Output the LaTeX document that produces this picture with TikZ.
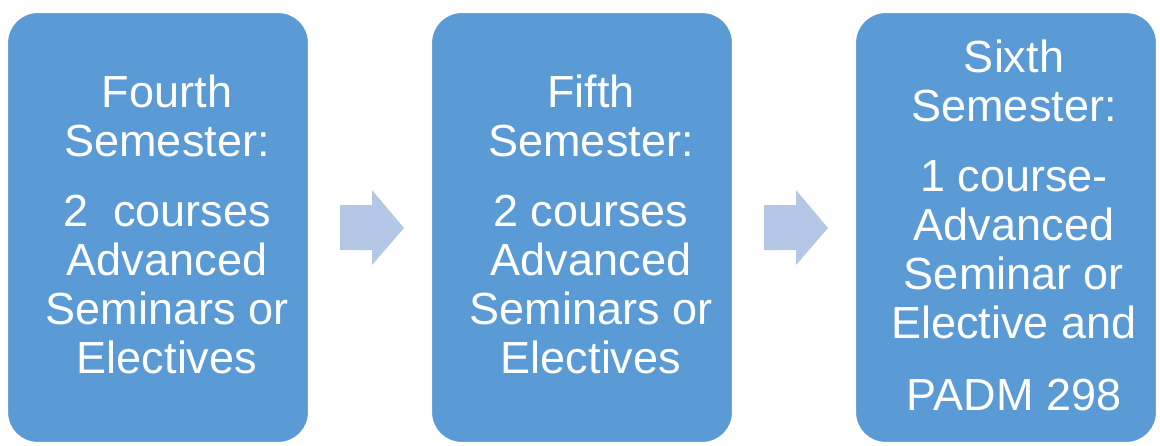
\documentclass[tikz,border=0pt]{standalone}
\usepackage{fontspec}
\setmainfont{Liberation Sans}
\definecolor{boxblue}{HTML}{5B9BD5}
\definecolor{arrowblue}{HTML}{B4C7E7}
\begin{document}
\begin{tikzpicture}[x=1pt,y=-1pt,
  semboxstyle/.style={draw=white,line width=1.2pt,fill=boxblue,rounded corners=30pt,
    minimum width=301pt,minimum height=430pt,inner sep=0pt},
  semtext/.style={text=white,align=center,inner sep=0pt,anchor=north,
    font=\fontsize{45}{49}\selectfont},
  blockarrow/.style={fill=arrowblue,draw=none}]
\useasboundingbox (0,0) rectangle (1160,445);
\node[semboxstyle] (b1) at (158,227.5) {};
\node[semboxstyle] (b2) at (582,227.5) {};
\node[semboxstyle] (b3) at (1006,227.5) {};
\node[semtext] (t1) at (167,74.5) {Fourth\\Semester:\\[21pt]2\ \ courses\\Advanced\\Seminars or\\Electives};
\node[semtext] (t2) at (591,74.5) {Fifth\\Semester:\\[21pt]2 courses\\Advanced\\Seminars or\\Electives};
\node[semtext] (t3) at (1014,39.5) {Sixth\\Semester:\\[21pt]1 course-\\Advanced\\Seminar or\\Elective and\\[23pt]PADM 298};
\fill[blockarrow] (340,205) -- (372,205) -- (372,190) -- (404,228) -- (372,265) -- (372,250) -- (340,250) -- cycle;
\fill[blockarrow] (764,205) -- (796,205) -- (796,190) -- (828,228) -- (796,265) -- (796,250) -- (764,250) -- cycle;
\end{tikzpicture}
\end{document}
